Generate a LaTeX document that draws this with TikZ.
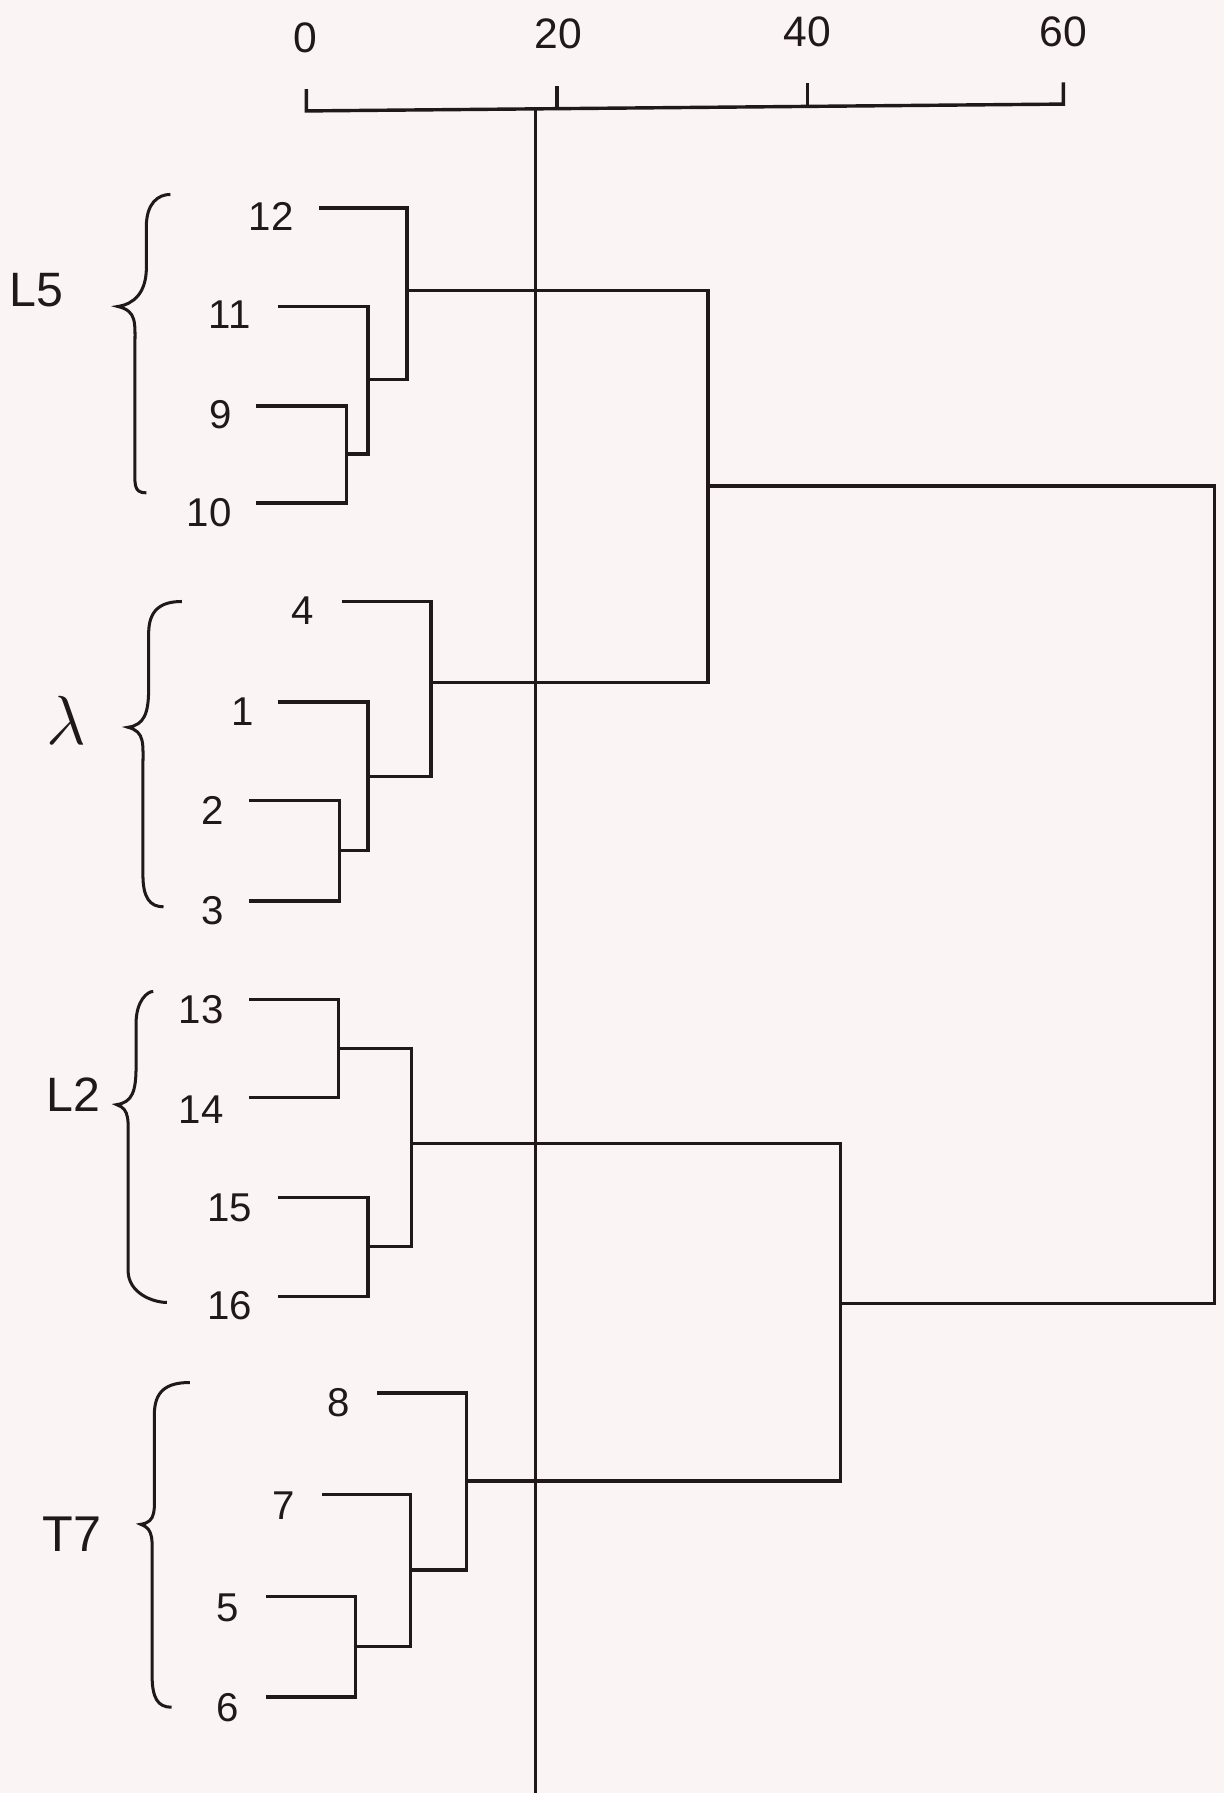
\documentclass[tikz,border=0pt]{standalone}
\usepackage{fontspec}
\setmainfont{Liberation Sans}
\definecolor{paper}{RGB}{251,244,244}
\definecolor{ink}{RGB}{32,24,26}
\newcommand\dendbrace[8]{%
  \draw[bracestroke] (#1,#2) .. controls (#3+10,#2) and (#3,#2+8) .. (#3,#2+28)
    -- (#3,#5-34) .. controls (#3,#5-12) and (#4+14,#5-2) .. (#4,#5)
    .. controls (#6+2,#5+4) and (#6,#5+14) .. (#6,#5+36)
    -- (#6,#8-28) .. controls (#6,#8-8) and (#7-12,#8) .. (#7,#8);}
\begin{document}
\begin{tikzpicture}[x=0.01cm,y=-0.01cm,
  line/.style={draw=ink,line width=0.85pt},
  bracestroke/.style={draw=ink,line width=0.75pt},
  leaf/.style={text=ink,font=\fontsize{10}{12}\selectfont,inner sep=0pt},
  tick/.style={text=ink,font=\fontsize{10.6}{12}\selectfont,inner sep=0pt},
  hand/.style={text=ink,font=\fontsize{11}{13}\selectfont,inner sep=0pt}]
\fill[paper] (0,0) rectangle (1070,1568);
\useasboundingbox (0,0) rectangle (1070,1568);

% axis
\coordinate (ax0) at (268,97);
\coordinate (ax60) at (930,91);
\coordinate (ax0t) at (268,78);
\coordinate (ax60t) at (930,72);
\coordinate (ax20) at (487,95);
\coordinate (ax20t) at (487,75);
\coordinate (ax40) at (706,93);
\coordinate (ax40t) at (706,73);
\draw[line] (ax0t) -- (ax0) -- (ax60) -- (ax60t);
\draw[line] (ax20) -- (ax20t);
\draw[line] (ax40) -- (ax40t);
\node[tick] (t0) at (267,33) {0};
\node[tick] (t20) at (488,30) {20};
\node[tick] (t40) at (706,28) {40};
\node[tick] (t60) at (930,28) {60};

% cut line
\coordinate (cutA) at (468,94);
\coordinate (cutB) at (468,1568);
\draw[line,line width=0.75pt] (cutA) -- (cutB);

% leaf labels
\node[leaf] (l12) at (237,189) {12};
\node[leaf] (l11) at (201,275) {11};
\node[leaf] (l9)  at (193,363) {9};
\node[leaf] (l10) at (183,448) {10};
\node[leaf] (l4)  at (265,534) {4};
\node[leaf] (l1)  at (212,622) {1};
\node[leaf] (l2)  at (186,709) {2};
\node[leaf] (l3)  at (186,796) {3};
\node[leaf] (l13) at (176,883) {13};
\node[leaf] (l14) at (176,970) {14};
\node[leaf] (l15) at (201,1056) {15};
\node[leaf] (l16) at (201,1142) {16};
\node[leaf] (l8)  at (296,1227) {8};
\node[leaf] (l7)  at (248,1317) {7};
\node[leaf] (l5)  at (199,1406) {5};
\node[leaf] (l6)  at (199,1493) {6};

% leaf line starts
\coordinate (s12) at (279,182);
\coordinate (s11) at (243,268);
\coordinate (s9)  at (224,355);
\coordinate (s10) at (224,440);
\coordinate (s4)  at (299,526);
\coordinate (s1)  at (243,614);
\coordinate (s2)  at (218,700);
\coordinate (s3)  at (218,788);
\coordinate (s13) at (218,874);
\coordinate (s14) at (218,960);
\coordinate (s15) at (243,1047);
\coordinate (s16) at (243,1134);
\coordinate (s8)  at (330,1218);
\coordinate (s7)  at (282,1307);
\coordinate (s5)  at (233,1396);
\coordinate (s6)  at (233,1484);

% merge points
\coordinate (ma) at (303,397);
\coordinate (mb) at (322,332);
\coordinate (mc) at (356,254);
\coordinate (md) at (297,744);
\coordinate (me) at (322,679);
\coordinate (mf) at (377,597);
\coordinate (mg) at (619,425);
\coordinate (mh) at (296,917);
\coordinate (mi) at (322,1090);
\coordinate (mj) at (360,1000);
\coordinate (mk) at (311,1440);
\coordinate (ml) at (359,1373);
\coordinate (mm) at (408,1295);
\coordinate (mn) at (735,1140);
\coordinate (mr) at (1062,780);

\draw[line] (s9) -| (ma) |- (s10);
\draw[line] (s11) -| (mb) |- (ma);
\draw[line] (s12) -| (mc) |- (mb);
\draw[line] (s2) -| (md) |- (s3);
\draw[line] (s1) -| (me) |- (md);
\draw[line] (s4) -| (mf) |- (me);
\draw[line] (mc) -| (mg) |- (mf);
\draw[line] (s13) -| (mh) |- (s14);
\draw[line] (s15) -| (mi) |- (s16);
\draw[line] (mh) -| (mj) |- (mi);
\draw[line] (s5) -| (mk) |- (s6);
\draw[line] (s7) -| (ml) |- (mk);
\draw[line] (s8) -| (mm) |- (ml);
\draw[line] (mj) -| (mn) |- (mm);
\draw[line] (mg) -| (mr) |- (mn);

% braces
\dendbrace{149}{170}{128}{103}{268}{118}{128}{431}
\dendbrace{159}{526}{130}{112}{636}{125}{143}{793}
\dendbrace{134}{867}{119}{102}{966}{112}{146}{1139}
\dendbrace{166}{1209}{135}{123}{1333}{133}{150}{1493}

% group labels
\node[hand,font=\fontsize{12}{14}\selectfont] (gL5) at (32,254) {L5};
\node[hand,font=\fontsize{16}{18}\selectfont] (glam) at (58,630) {$\lambda$};
\node[hand,font=\fontsize{12}{14}\selectfont] (gL2) at (64,957) {L2};
\node[hand,font=\fontsize{12.5}{14}\selectfont] (gT7) at (63,1342) {T7};
\end{tikzpicture}
\end{document}
